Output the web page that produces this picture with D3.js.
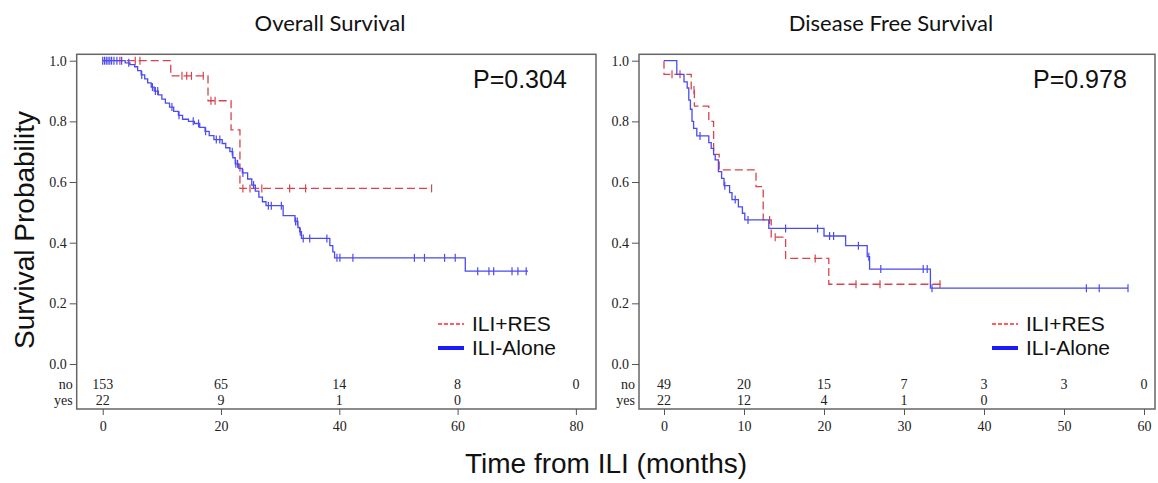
<!DOCTYPE html>
<html>
<head>
<meta charset="utf-8">
<script src="https://cdn.jsdelivr.net/npm/d3@7"></script>
<style>
  html, body { margin: 0; padding: 0; background: #fff; }
  svg { display: block; }
  .tick text { font-family: "Liberation Serif", "DejaVu Serif", serif; font-size: 14px; fill: #222; }
  .tick line, .domain { stroke: #555; }
</style>
</head>
<body>
<svg id="chart" width="1158" height="483"></svg>
<script>
// ---- data ----
const survTicks = [0, 0.2, 0.4, 0.6, 0.8, 1.0];

// Overall survival
const osTicks = [0, 20, 40, 60, 80];
const osAloneTime = [3.8, 4.6, 5.4, 5.9, 6.5, 7.1, 7.6, 8.2, 8.7, 9.4, 10.0, 10.6, 11.3, 12.0, 12.8, 13.5,
  14.5, 15.5, 16.4, 17.3, 18.0, 18.8, 20.2, 20.8, 21.5, 22.0, 22.4, 23.0, 23.6, 24.5, 25.2, 25.8, 26.4,
  27.0, 27.6, 30.5, 32.5, 33.0, 33.3, 33.6, 38.4, 38.9, 39.2, 61.3];
const osAloneSurv = [0.993, 0.987, 0.98, 0.967, 0.953, 0.94, 0.927, 0.913, 0.9, 0.887, 0.873, 0.86, 0.847,
  0.833, 0.82, 0.807, 0.8, 0.793, 0.78, 0.767, 0.753, 0.74, 0.727, 0.713, 0.7, 0.68, 0.66, 0.645, 0.63,
  0.61, 0.59, 0.57, 0.55, 0.535, 0.522, 0.489, 0.47, 0.45, 0.436, 0.414, 0.39, 0.37, 0.35, 0.306];
const osAloneCens = [0, 0.3, 0.6, 0.9, 1.2, 1.5, 1.9, 2.4, 3.2, 4.4, 6.6, 8.4, 8.9, 9.3, 11.7, 12.9, 15.3,
  16.2, 17.4, 19.2, 19.8, 21.9, 22.5, 22.8, 23.7, 25.5, 28.0, 28.5, 30.2, 32.6, 32.9, 33.4, 33.9, 35.0,
  37.9, 39.6, 40.1, 42.3, 52.7, 54.4, 57.8, 59.6, 63.4, 65.3, 66.1, 69.2, 70.2, 71.6];
const osAloneEnd = 71.9;
const osResTime = [11.5, 17.8, 21.7, 23.2];
const osResSurv = [0.95, 0.868, 0.772, 0.579];
const osResCens = [2.9, 5.5, 6.3, 13.4, 14.2, 15.0, 17.0, 18.3, 19.0, 23.7, 24.9, 26.9, 31.6, 34.3, 55.6];
const osResEnd = 55.6;
const osRiskNo = [153, 65, 14, 8, 0];
const osRiskYes = [22, 9, 1, 0];

// Disease free survival
const dfsTicks = [0, 10, 20, 30, 40, 50, 60];
const dfsAloneTime = [1.6, 2.5, 2.9, 3.1, 3.3, 3.5, 3.7, 4.1, 5.6, 5.9, 6.2, 6.4, 6.8, 7.2, 7.5, 8.2, 8.5,
  9.3, 9.8, 10.1, 13.1, 20.0, 22.7, 25.4, 25.7, 33.3];
const dfsAloneSurv = [0.955, 0.93, 0.91, 0.87, 0.84, 0.8, 0.777, 0.752, 0.73, 0.711, 0.69, 0.673, 0.634,
  0.612, 0.588, 0.565, 0.542, 0.518, 0.497, 0.475, 0.447, 0.422, 0.39, 0.354, 0.313, 0.25];
const dfsAloneCens = [4.5, 7.6, 8.9, 10.5, 15.2, 19.2, 20.7, 21.2, 24.3, 25.6, 27.1, 32.4, 32.9, 33.5,
  52.8, 54.4, 58.0];
const dfsAloneEnd = 58.0;
const dfsResTime = [0, 3.4, 3.8, 5.6, 6.2, 6.9, 11.5, 12.4, 13.4, 15.2, 20.6];
const dfsResSurv = [0.955, 0.903, 0.85, 0.8, 0.691, 0.64, 0.585, 0.475, 0.418, 0.348, 0.263];
const dfsResCens = [1.0, 2.0, 3.75, 13.2, 13.9, 18.9, 24.0, 27.0, 34.5];
const dfsResEnd = 34.7;
const dfsRiskNo = [49, 20, 15, 7, 3, 3, 0];
const dfsRiskYes = [22, 12, 4, 1, 0];

const groupNames = ["ILI+RES", "ILI-Alone"];
const resColor = "#d8434e";
const aloneColor = "#4b4bef";

// ---- drawing ----
const svg = d3.select("#chart");
const sans = "'Liberation Sans', Arial, sans-serif";

function survAt(times, surv, t) {
  const i = d3.bisectRight(times, t);
  return i === 0 ? 1 : surv[i - 1];
}

function drawCurve(g, x, y, times, surv, cens, end, color, dashed) {
  const pts = [[0, 1]].concat(times.map((t, i) => [t, surv[i]]));
  pts.push([end, surv[surv.length - 1]]);
  const line = d3.line().x(d => x(d[0])).y(d => y(d[1])).curve(d3.curveStepAfter);
  g.append("path").datum(pts)
    .attr("fill", "none").attr("stroke", color).attr("stroke-width", 1.3)
    .attr("stroke-dasharray", dashed ? "8,4" : null)
    .attr("d", line);
  g.selectAll(null).data(cens).enter().append("line")
    .attr("x1", d => x(d)).attr("x2", d => x(d))
    .attr("y1", d => y(survAt(times, surv, d)) - 4)
    .attr("y2", d => y(survAt(times, surv, d)) + 4)
    .attr("stroke", color).attr("stroke-width", 1.2);
}

function drawPanel(p) {
  const g = svg.append("g");
  const x = d3.scaleLinear().domain(p.xDomain).range([p.x0, p.x1]);
  const y = d3.scaleLinear().domain([0, 1]).range([364, 60.7]);

  g.append("text").attr("x", p.titleX).attr("y", 31).attr("text-anchor", "middle")
    .style("font-family", "Lato, 'Open Sans', sans-serif").style("font-size", "22px").attr("fill", "#111")
    .text(p.title);

  // frame
  g.append("rect").attr("x", p.x0).attr("y", 54.3).attr("width", p.x1 - p.x0).attr("height", 409 - 54.3)
    .attr("fill", "none").attr("stroke", "#666").attr("stroke-width", 1.5);

  g.append("g").attr("transform", `translate(${p.x0},0)`)
    .call(d3.axisLeft(y).tickValues(survTicks).tickFormat(d3.format(".1f")).tickSize(7).tickPadding(3))
    .call(a => a.select(".domain").remove());

  g.append("g").attr("transform", "translate(0,409)")
    .call(d3.axisBottom(x).tickValues(p.ticks).tickSize(6).tickPadding(6))
    .call(a => a.select(".domain").remove());

  // numbers at risk
  const serif = "'Liberation Serif', 'DejaVu Serif', serif";
  const rows = [["no", p.riskNo, 389], ["yes", p.riskYes, 405]];
  rows.forEach(([lab, vals, yy]) => {
    g.append("text").attr("x", p.x0 - 4).attr("y", yy).attr("text-anchor", "end")
      .style("font-family", serif).style("font-size", "14px").attr("fill", "#222").text(lab);
    g.selectAll(null).data(vals).enter().append("text")
      .attr("x", (d, i) => x(p.ticks[i])).attr("y", yy).attr("text-anchor", "middle")
      .style("font-family", serif).style("font-size", "14px").attr("fill", "#222")
      .text(d => d);
  });

  drawCurve(g, x, y, p.resTime, p.resSurv, p.resCens, p.resEnd, resColor, true);
  drawCurve(g, x, y, p.aloneTime, p.aloneSurv, p.aloneCens, p.aloneEnd, aloneColor, false);

  g.append("text").attr("x", p.pX).attr("y", 88)
    .style("font-family", sans).style("font-size", "25px").attr("fill", "#111").text(p.pText);

  // legend
  const lg = g.append("g");
  lg.append("line").attr("x1", p.legX).attr("x2", p.legX + 26).attr("y1", 324).attr("y2", 324)
    .attr("stroke", "#ff2a2a").attr("stroke-width", 1.5).attr("stroke-dasharray", "4,2");
  lg.append("line").attr("x1", p.legX).attr("x2", p.legX + 26).attr("y1", 348).attr("y2", 348)
    .attr("stroke", "#1a1aff").attr("stroke-width", 4);
  lg.selectAll(null).data(groupNames).enter().append("text")
    .attr("x", p.legX + 34).attr("y", (d, i) => 331 + i * 24)
    .style("font-family", sans).style("font-size", "21px").attr("fill", "#111")
    .text(d => d);
}

drawPanel({
  title: "Overall Survival", titleX: 330, x0: 76.7, x1: 596, xDomain: [-4.4, 83.4], ticks: osTicks,
  aloneTime: osAloneTime, aloneSurv: osAloneSurv, aloneCens: osAloneCens, aloneEnd: osAloneEnd,
  resTime: osResTime, resSurv: osResSurv, resCens: osResCens, resEnd: osResEnd,
  riskNo: osRiskNo, riskYes: osRiskYes, pText: "P=0.304", pX: 473, legX: 438
});
drawPanel({
  title: "Disease Free Survival", titleX: 891, x0: 639, x1: 1155, xDomain: [-3.125, 61.375], ticks: dfsTicks,
  aloneTime: dfsAloneTime, aloneSurv: dfsAloneSurv, aloneCens: dfsAloneCens, aloneEnd: dfsAloneEnd,
  resTime: dfsResTime, resSurv: dfsResSurv, resCens: dfsResCens, resEnd: dfsResEnd,
  riskNo: dfsRiskNo, riskYes: dfsRiskYes, pText: "P=0.978", pX: 1033, legX: 992
});

// shared axis titles
svg.append("text").attr("transform", "translate(34,230) rotate(-90)").attr("text-anchor", "middle")
  .style("font-family", sans).style("font-size", "28px").attr("fill", "#111").text("Survival Probability");
svg.append("text").attr("x", 606).attr("y", 473).attr("text-anchor", "middle")
  .style("font-family", sans).style("font-size", "28px").attr("fill", "#111").text("Time from ILI (months)");
</script>
</body>
</html>
